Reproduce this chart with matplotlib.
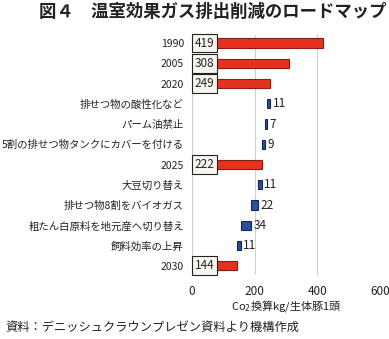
import matplotlib.pyplot as plt
from matplotlib.ticker import FixedLocator

plt.rcParams['font.family'] = ['Noto Sans CJK JP', 'DejaVu Sans']

# rows of the roadmap (top to bottom)
labels = ['1990', '2005', '2020', '排せつ物の酸性化など', 'パーム油禁止',
          '5割の排せつ物タンクにカバーを付ける', '2025', '大豆切り替え',
          '排せつ物8割をバイオガス', '粗たん白原料を地元産へ切り替え',
          '飼料効率の上昇', '2030']
# totals (red) and reductions (blue); None where not used
totals = [419, 308, 249, None, None, None, 222, None, None, None, None, 144]
reductions = [None, None, None, 11, 7, 9, None, 11, 22, 34, 11, None]
xticks = [0, 200, 400, 600]

red = '#e5321f'
red_edge = '#8a1d12'
blue = '#2b4f9e'
blue_edge = '#16264f'

fig = plt.figure(figsize=(3.89, 3.39), dpi=100)
ax = fig.add_axes([0.494, 0.189, 0.483, 0.708])

level = None
for i, lab in enumerate(labels):
    if totals[i] is not None:
        level = totals[i]
        ax.barh(i, totals[i], height=0.45, color=red, edgecolor=red_edge, linewidth=0.8, zorder=3)
        ax.text(8, i, str(totals[i]), ha='left', va='center', fontsize=8.5, color='#222222', zorder=5,
                bbox=dict(boxstyle='square,pad=0.25', fc='#f6f5f0', ec='#222222', lw=0.8))
    else:
        r = reductions[i]
        ax.barh(i, r, left=level - r, height=0.45, color=blue, edgecolor=blue_edge, linewidth=0.8, zorder=3)
        ax.text(level + 8, i, str(r), ha='left', va='center', fontsize=8.5, color='#222222')
        level -= r

ax.set_yticks(range(len(labels)))
ax.set_yticklabels(labels, fontsize=7.5)
ax.set_ylim(11.45, -0.4)
ax.set_xlim(0, 600)
ax.xaxis.set_major_locator(FixedLocator(xticks))
ax.tick_params(axis='x', length=0, labelsize=8.5, colors='#222222', pad=7)
ax.tick_params(axis='y', length=0, labelsize=7.5, colors='#222222', pad=6)
ax.grid(axis='x', color='#d0d0d0', linewidth=0.8, zorder=0)
for s in ax.spines.values():
    s.set_visible(False)
ax.axvline(0, color='#c8c8c8', linewidth=0.8, zorder=1)
ax.set_xlabel('Co$_2$換算kg/生体豚1頭', fontsize=8, labelpad=0, color='#222222')

fig.text(0.548, 0.965, '図４　温室効果ガス排出削減のロードマップ', ha='center', va='center',
         fontsize=12.5, fontweight='bold', color='#222222')
fig.text(0.013, 0.035, '資料：デニッシュクラウンプレゼン資料より機構作成', ha='left', va='center',
         fontsize=8.8, color='#222222')

fig.savefig('out.png', dpi=100, facecolor='white')
